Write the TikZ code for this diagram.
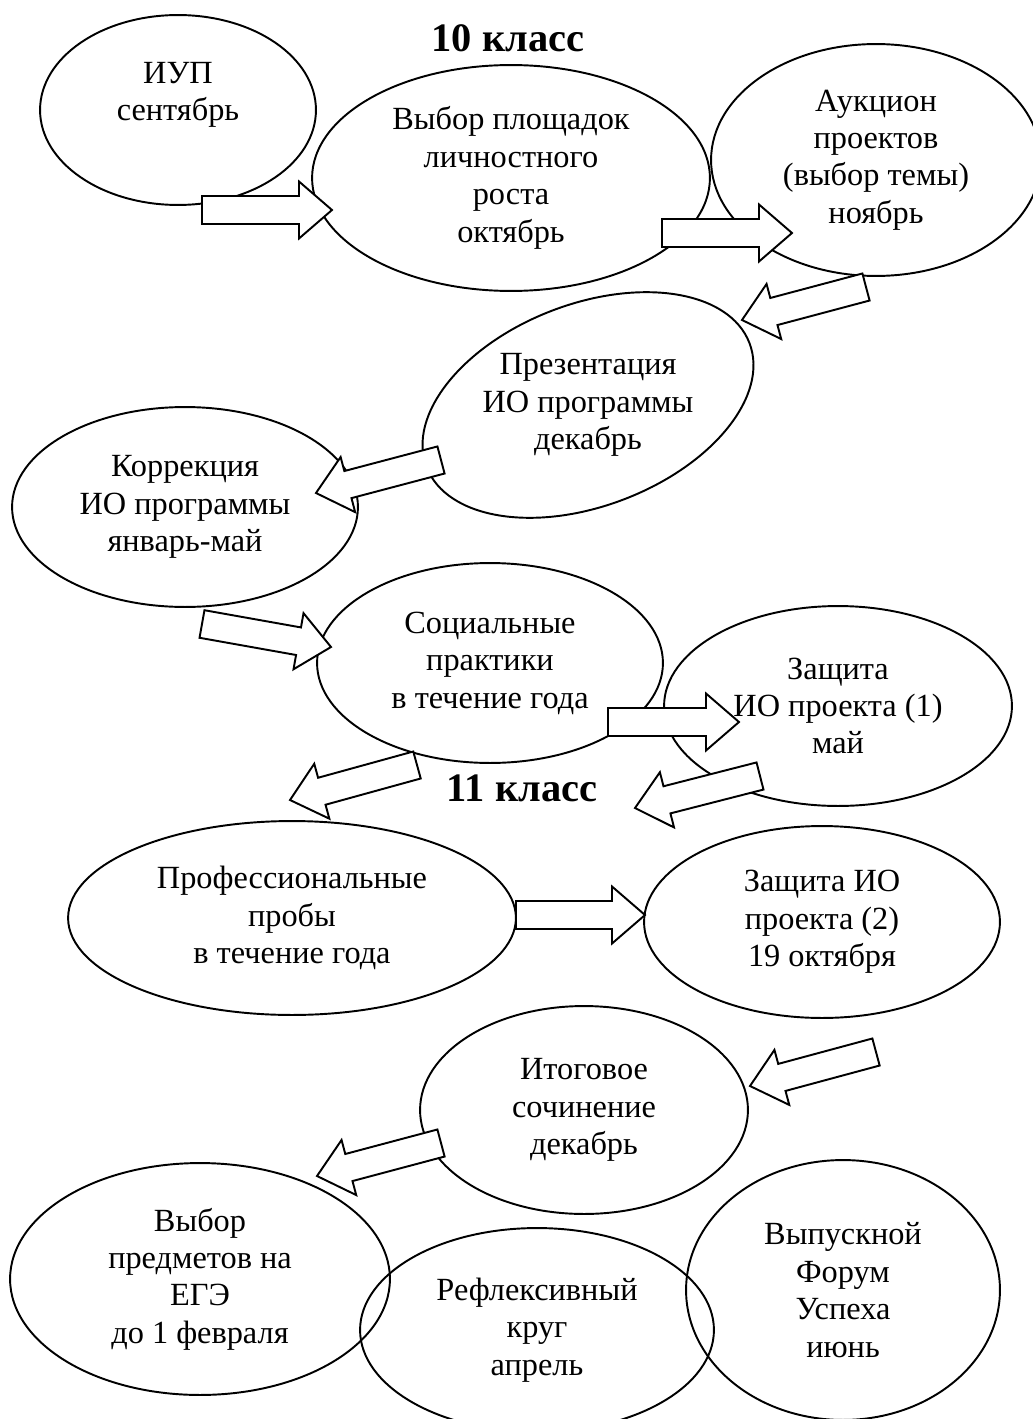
\documentclass[tikz,border=0pt]{standalone}
\usepackage{fontspec}
\setmainfont{Liberation Serif}
\usetikzlibrary{shapes.geometric,calc}

\tikzset{
  txt/.style={align=center, font=\fontsize{18.4}{21.3}\selectfont},
  ell/.style 2 args={ellipse, draw, line width=1.1pt, inner sep=0pt, txt,
    minimum width=#1*0.04cm, minimum height=#2*0.04cm},
  blk/.style={draw, fill=white, line width=1.1pt, line join=miter},
  head/.style={font=\fontsize{23}{26}\selectfont\bfseries}
}
\newcommand{\blockarrow}[2]{%
  \coordinate (hb) at ($(#2)!0.66cm!(#1)$);
  \draw[blk] ($(#1)!0.28cm!90:(#2)$) -- ($(hb)!0.28cm!90:(#2)$)
    -- ($(hb)!0.57cm!90:(#2)$) -- (#2) -- ($(hb)!0.57cm!-90:(#2)$)
    -- ($(hb)!0.28cm!-90:(#2)$) -- ($(#1)!0.28cm!-90:(#2)$) -- cycle;}

\begin{document}
\begin{tikzpicture}[x=0.02cm, y=-0.02cm]
\useasboundingbox (0,0) rectangle (1032,1419);

\node[head] (k10) at (508,38) {10 класс};
\node[head] (k11) at (522,788) {11 класс};

\node[ell={138}{95}] (iup) at (178,110) {ИУП\\сентябрь\\\mbox{}};
\node[ell={199}{113}] (vybor) at (511,178) {Выбор площадок\\личностного\\роста\\октябрь};
\node[ell={165}{116}] (auk) at (876,160) {Аукцион\\проектов\\(выбор темы)\\ноябрь};
\node[ell={173}{101}, rotate=21] (prez) at (588,405) {};
\node[txt] (prezt) at (prez) {Презентация\\ИО программы\\декабрь};
\node[ell={173}{100}] (korr) at (185,507) {Коррекция\\ИО программы\\январь-май};
\node[ell={173}{100}] (soc) at (490,663) {Социальные\\практики\\в течение года};
\node[ell={174}{100}] (zash1) at (838,706) {Защита\\ИО проекта (1)\\май};
\node[ell={224}{97}] (prof) at (292,918) {Профессиональные\\пробы\\в течение года};
\node[ell={178}{96}] (zash2) at (822,922) {Защита ИО\\проекта (2)\\19 октября};
\node[ell={164}{104}] (itog) at (584,1110) {Итоговое\\сочинение\\декабрь};
\node[ell={190}{116}] (vybpr) at (200,1279) {Выбор\\предметов на\\ЕГЭ\\до 1 февраля};
\node[ell={177}{102}] (refl) at (537,1330) {Рефлексивный\\круг\\апрель};
\node[ell={157}{130}] (vyp) at (843,1290) {Выпускной\\Форум\\Успеха\\июнь};

\coordinate (a1s) at (202,210);  \coordinate (a1e) at (332,210);
\coordinate (a2s) at (662,233);  \coordinate (a2e) at (792,233);
\coordinate (a3s) at (866,287);  \coordinate (a3e) at (742,320);
\coordinate (a4s) at (441,460);  \coordinate (a4e) at (316,493);
\coordinate (a5s) at (202,624);  \coordinate (a5e) at (331,647);
\coordinate (a6s) at (608,722);  \coordinate (a6e) at (739,722);
\coordinate (a7s) at (760,776);  \coordinate (a7e) at (635,808);
\coordinate (a8s) at (417,765);  \coordinate (a8e) at (290,800);
\coordinate (a9s) at (516,915);  \coordinate (a9e) at (645,915);
\coordinate (a10s) at (876,1052); \coordinate (a10e) at (750,1086);
\coordinate (a11s) at (441,1143); \coordinate (a11e) at (317,1176);

\blockarrow{a1s}{a1e}
\blockarrow{a2s}{a2e}
\blockarrow{a3s}{a3e}
\blockarrow{a4s}{a4e}
\blockarrow{a5s}{a5e}
\blockarrow{a6s}{a6e}
\blockarrow{a7s}{a7e}
\blockarrow{a8s}{a8e}
\blockarrow{a9s}{a9e}
\blockarrow{a10s}{a10e}
\blockarrow{a11s}{a11e}
\end{tikzpicture}
\end{document}
